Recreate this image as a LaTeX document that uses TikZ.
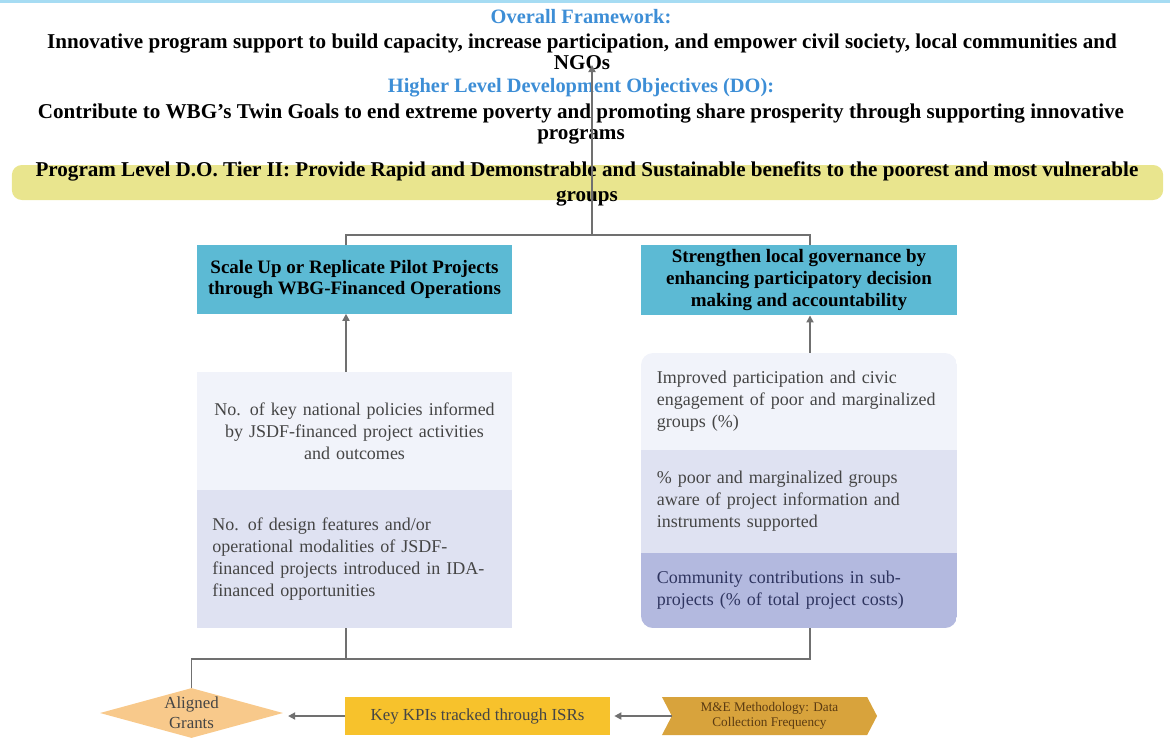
\documentclass[tikz,border=0pt]{standalone}
\usepackage{fontspec}
\setmainfont{Liberation Serif}
\usepackage{tikz}
\usetikzlibrary{arrows.meta, shapes.geometric, shapes.symbols}

\definecolor{linegray}{HTML}{707070}
\definecolor{headblue}{HTML}{3D8ED6}
\definecolor{baryellow}{HTML}{E9E58E}
\definecolor{boxteal}{HTML}{5CBAD4}
\definecolor{palelav}{HTML}{F1F3FA}
\definecolor{lav}{HTML}{DFE2F2}
\definecolor{deeplav}{HTML}{B3B9DF}
\definecolor{navytext}{HTML}{2F3560}
\definecolor{bodytext}{HTML}{454545}
\definecolor{grantorange}{HTML}{F8C98B}
\definecolor{kpiyellow}{HTML}{F7C22C}
\definecolor{megold}{HTML}{D8A33C}
\definecolor{metext}{HTML}{5B3B12}
\definecolor{topblue}{HTML}{A6DCF3}

\begin{document}
\begin{tikzpicture}[x=0.025cm, y=-0.025cm,
    link/.style={draw=linegray, line width=1.2pt},
    arr/.style={link, -{Triangle[length=5pt, width=5pt]}},
    head/.style={font=\bfseries\fontsize{14.5}{15}\selectfont, text=headblue},
    goal/.style={font=\bfseries\fontsize{15}{15}\selectfont, align=center},
    outcome/.style={fill=boxteal, minimum width=7.875cm, minimum height=1.7cm,
        align=center, font=\bfseries\fontsize{13.5}{15.5}\selectfont},
    indicator/.style={minimum width=7.875cm, text width=7.1cm, align=left, text=bodytext,
        font=\fontsize{12.8}{15.6}\selectfont}]
    \useasboundingbox (0,0) rectangle (1170,738);
    \fill[topblue] (0,0) rectangle (1170,3);

    % Framework and objectives
    \node[head] (frame) at (581,17) {Overall Framework:};
    \node[goal] (support) at (582,52) {Innovative program support to build capacity, increase participation, and empower civil society, local communities and\\NGOs};
    \node[head] (higher) at (581,88) {Higher Level Development Objectives (DO):};
    \node[goal] (twin) at (581,124) {Contribute to WBG's Twin Goals to end extreme poverty and  promoting share  prosperity through supporting innovative\\programs};

    % Program level bar
    \node[fill=baryellow, rounded corners=0.25cm, minimum width=28.775cm, minimum height=0.875cm] (bar) at (587.5,182.5) {};
    \node[goal, font=\bfseries\fontsize{15}{17.5}\selectfont] (tier) at (587,184) {Program Level D.O. Tier II: Provide Rapid and Demonstrable and Sustainable benefits to the poorest and most vulnerable\\groups};

    % Outcomes
    \node[outcome] (scale) at (354.5,279.5) {Scale Up or Replicate Pilot Projects\\through WBG-Financed Operations};
    \node[outcome] (gov) at (799,280) {Strengthen local governance by\\enhancing participatory decision\\making and accountability};

    % Indicators, left
    \node[indicator, fill=palelav, minimum height=2.95cm, align=center] (policy) at (354.5,431) {No. of key national policies informed\\by JSDF-financed project activities\\and outcomes};
    \node[indicator, fill=lav, minimum height=3.45cm] (design) at (354.5,559) {No. of design features and/or\\operational modalities of JSDF-\\financed projects introduced in IDA-\\financed opportunities};

    % Indicators, right
    \begin{scope}
        \clip[rounded corners=0.3cm] (641,353) rectangle (957,628);
        \node[indicator, fill=palelav, minimum height=2.425cm] (civic) at (799,401.5) {Improved participation and civic\\engagement of poor and marginalized\\groups (\%)};
        \node[indicator, fill=lav, minimum height=2.575cm] (aware) at (799,501.5) {\% poor and marginalized groups\\aware of project information  and\\instruments supported};
        \node[indicator, fill=deeplav, minimum height=1.875cm, text=navytext] (share) at (799,590.5) {Community contributions  in sub-\\projects (\% of total project costs)};
    \end{scope}

    % Tracking row
    \node[diamond, fill=grantorange, minimum width=4.575cm, minimum height=1.25cm, inner sep=0pt] (grants) at (191.5,713) {};
    \node[font=\fontsize{12}{14}\selectfont, text=bodytext, align=center] (grantstxt) at (grants) {Aligned\\Grants};
    \node[fill=kpiyellow, minimum width=6.625cm, minimum height=0.95cm, font=\fontsize{12}{14}\selectfont, text=bodytext] (kpi) at (477.5,716) {Key KPIs tracked through ISRs};
    \node[signal, signal from=west, signal to=east, signal pointer angle=125, fill=megold,
        minimum width=5.375cm, minimum height=0.95cm, align=center, text=metext,
        font=\fontsize{9.4}{11}\selectfont] (mne) at (769.5,716) {M\&E Methodology: Data\\Collection Frequency};

    % Connectors
    \coordinate (colL) at (346,0);
    \coordinate (colR) at (810,0);
    \coordinate (split) at (592,235);
    \coordinate (apex) at (592,65);
    \coordinate (merge) at (346,659);
    \draw[arr] (split) -- (apex);
    \draw[link] (colL |- scale.north) |- (split) -| (colR |- gov.north);
    \draw[arr] (colL |- policy.north) -- (colL |- scale.south);
    \draw[arr] (colR |- civic.north) -- (colR |- gov.south);
    \draw[link] (colL |- design.south) -- (merge) -| (grants.north);
    \draw[link] (colR |- share.south) |- (merge);
    \draw[arr, shorten >=0.12cm] (kpi.west) -- (kpi.west -| grants.east);
    \draw[arr, shorten >=0.1cm] (mne.west) -- (kpi.east);
\end{tikzpicture}
\end{document}
